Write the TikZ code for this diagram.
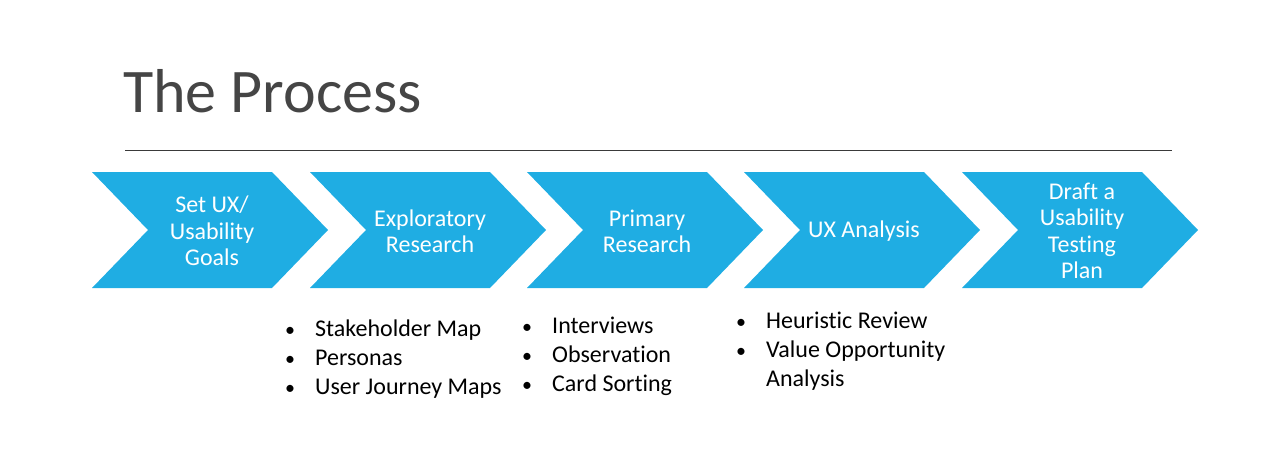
\documentclass[tikz,border=0pt]{standalone}
\usepackage{fontspec}
\setmainfont{Carlito}[Ligatures=NoCommon, Contextuals=NoAlternate]
\definecolor{chev}{HTML}{1FADE3}
\definecolor{titlegray}{HTML}{454545}
\definecolor{rulegray}{HTML}{3A3A3A}
\tikzset{
  chevfill/.style={fill=chev, draw=none},
  chevtext/.style={text=white, align=center, inner sep=0pt, font=\fontsize{24}{26.3}\selectfont},
  listtext/.style={text=black, inner sep=0pt, anchor=base west, font=\fontsize{24}{29}\selectfont},
}
\newcommand\mychevron[3]{%
  \path[chevfill] (#1,172) -- ++(180,0) -- ++(56,58) -- ++(-56,58) -- ++(-180,0) -- ++(56,-58) -- cycle;
  \node[chevtext] (#2) at (#1+120,231) {#3};
}
\newcommand\bul{{\fontsize{20}{29}\selectfont•}}
\begin{document}
\begin{tikzpicture}[x=1pt,y=-1pt]
\useasboundingbox (0,0) rectangle (1280,460);
\node[anchor=base west, inner sep=0pt, text=titlegray, font=\fontsize{62}{70}\selectfont] (title) at (123,112) {The Process};
\coordinate (ruleL) at (125,150);
\coordinate (ruleR) at (1172,150);
\draw[rulegray, line width=1pt] (ruleL) -- (ruleR);

\mychevron{92}{c1}{Set UX/\\Usability\\Goals}
\mychevron{310}{c2}{Exploratory\\Research}
\mychevron{527}{c3}{Primary\\Research}
\mychevron{744}{c4}{UX Analysis}
\mychevron{962}{c5}{Draft a\\Usability\\Testing\\Plan}

\node[listtext] (l1) at (285,336) {\begin{tabular}[t]{@{}p{30pt}@{}l@{}}\bul&Stakeholder Map\\\bul&Personas\\\bul&User Journey Maps\end{tabular}};
\node[listtext] (l2) at (522,333) {\begin{tabular}[t]{@{}p{30pt}@{}l@{}}\bul&Interviews\\\bul&Observation\\\bul&Card Sorting\end{tabular}};
\node[listtext] (l3) at (736,328) {\begin{tabular}[t]{@{}p{30pt}@{}l@{}}\bul&Heuristic Review\\\bul&Value Opportunity\\&Analysis\end{tabular}};
\end{tikzpicture}
\end{document}
